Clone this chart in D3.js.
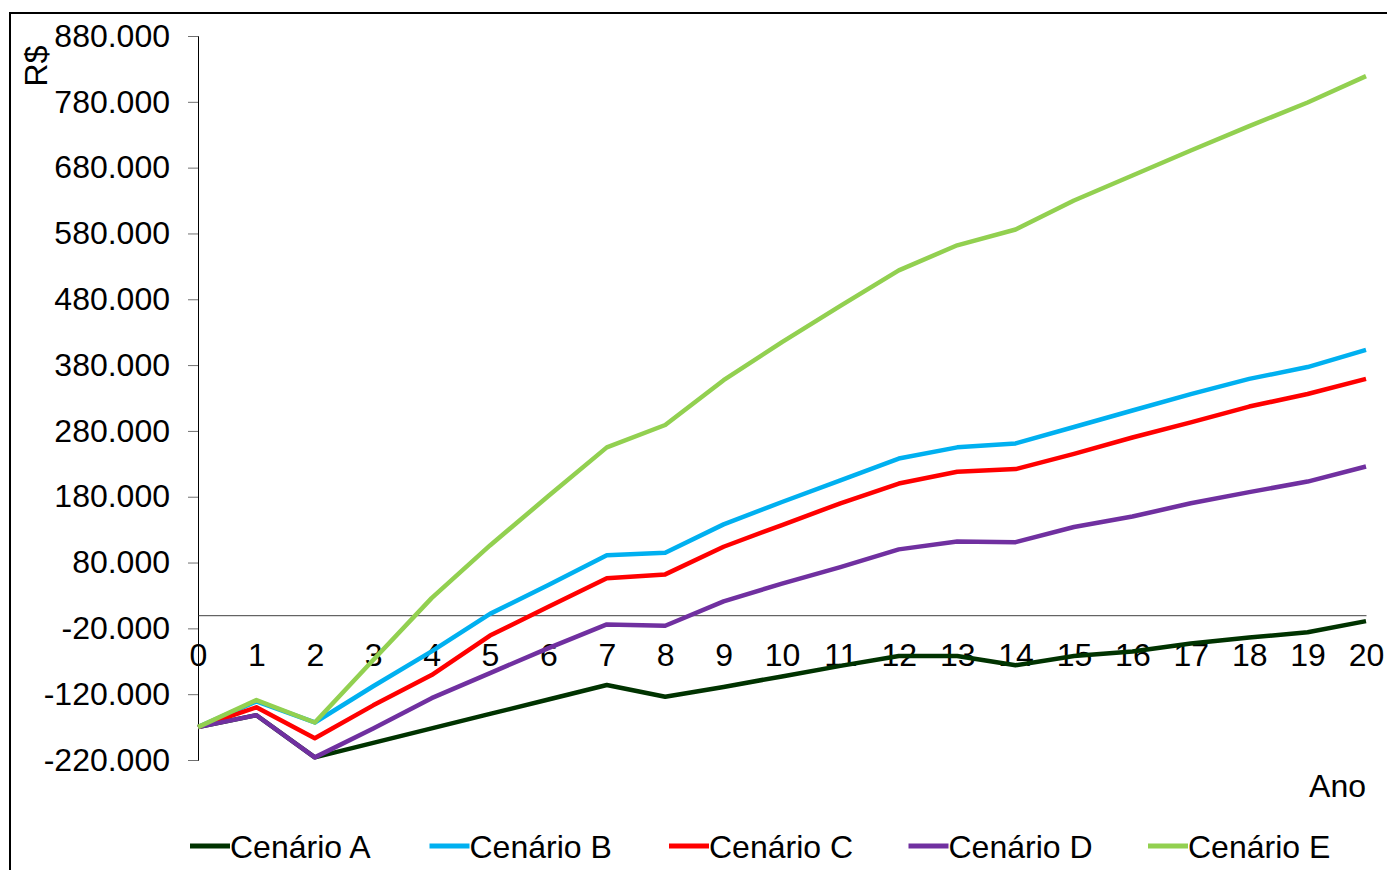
<!DOCTYPE html>
<html>
<head>
<meta charset="utf-8">
<script src="https://cdn.jsdelivr.net/npm/d3@7"></script>
<style>
  body { margin: 0; background: #fff; }
  svg text { font-family: "Liberation Sans", Arial, sans-serif; fill: #000; }
</style>
</head>
<body>
<script>
"use strict";

// anos (eixo x)
var anos = d3.range(0, 21);

// valores em R$ por cenário
var cenarioA = [-170000, -152000, -216000, -194000, -172000, -150000, -128000, -106000, -124000, -109000, -93000,
                -77000, -62000, -62000, -76000, -62000, -55000, -43000, -34000, -26000, -9000];
var cenarioB = [-170000, -131000, -163000, -108000, -55000, 2000, 46000, 91000, 95000, 138000, 172000,
                205000, 238000, 255000, 261000, 286000, 311000, 336000, 359000, 377000, 403000];
var cenarioC = [-170000, -140000, -187000, -137000, -91000, -31000, 13000, 56000, 62000, 104000, 137000,
                170000, 200000, 218000, 222000, 245000, 270000, 293000, 317000, 336000, 359000];
var cenarioD = [-170000, -152000, -216000, -172000, -126000, -88000, -50000, -14000, -16000, 21000, 48000,
                73000, 100000, 112000, 111000, 134000, 150000, 170000, 187000, 203000, 226000];
var cenarioE = [-170000, -129000, -163000, -68000, 26000, 106000, 181000, 255000, 289000, 357000, 415000,
                470000, 524000, 562000, 586000, 630000, 668000, 706000, 743000, 779000, 819000];

var nomes = ["Cenário A", "Cenário B", "Cenário C", "Cenário D", "Cenário E"];
var cores = ["#003300", "#00B0F0", "#FF0000", "#7030A0", "#92D050"];
var yTicks = d3.range(-220000, 880001, 100000);

var series = [cenarioA, cenarioB, cenarioC, cenarioD, cenarioE];

var width = 1387, height = 870;
var svg = d3.select("body").append("svg")
    .attr("width", width)
    .attr("height", height);

// moldura do gráfico (cortada à direita e embaixo)
svg.append("rect")
    .attr("x", 10).attr("y", 13)
    .attr("width", 1400).attr("height", 900)
    .attr("fill", "none")
    .attr("stroke", "#000")
    .attr("stroke-width", 2);

var x = d3.scaleLinear().domain([0, 20]).range([198, 1366]);
var y = d3.scaleLinear().domain([-220000, 880000]).range([760, 36]);

var br = d3.formatLocale({decimal: ",", thousands: ".", grouping: [3], currency: ["R$", ""], minus: "-"});
var fmt = br.format(",.3f");
function yFmt(d) { return br.format(",")(d / 1000) + ".000"; }

// eixo y
var yAxis = svg.append("g")
    .attr("transform", "translate(198,0)")
    .call(d3.axisLeft(y).tickValues(yTicks).tickSizeOuter(0).tickSize(10).tickPadding(18)
        .tickFormat(function(d) { return d === 0 ? "0" : (d < 0 ? "-" : "") + Math.abs(d / 1000) + ".000"; }));
yAxis.select(".domain").attr("stroke", "#000");
yAxis.selectAll(".tick line").attr("stroke", "#707070");
yAxis.selectAll("text").style("font-size", "32px").attr("fill", "#000");

// linha do zero e rótulos dos anos
var xAxis = svg.append("g")
    .attr("transform", "translate(0," + y(0) + ")")
    .call(d3.axisBottom(x).tickValues(anos).tickSize(0).tickPadding(28).tickFormat(d3.format("d")));
xAxis.select(".domain").attr("stroke", "#404040").attr("stroke-width", 1);
xAxis.selectAll("text").style("font-size", "32px").attr("fill", "#000");

// títulos dos eixos
svg.append("text")
    .attr("transform", "translate(47,66) rotate(-90)")
    .attr("text-anchor", "middle")
    .style("font-size", "32px")
    .text("R$");

svg.append("text")
    .attr("x", 1366).attr("y", 797)
    .attr("text-anchor", "end")
    .style("font-size", "32px")
    .text("Ano");

// linhas
var line = d3.line()
    .x(function(d, i) { return x(anos[i]); })
    .y(function(d) { return y(d); });

svg.append("g").selectAll("path")
    .data(series)
    .enter().append("path")
    .attr("d", line)
    .attr("fill", "none")
    .attr("stroke", function(d, i) { return cores[i]; })
    .attr("stroke-width", 4.5)
    .attr("stroke-linejoin", "round");

// legenda
var legend = svg.append("g").selectAll("g")
    .data(nomes)
    .enter().append("g")
    .attr("transform", function(d, i) { return "translate(" + (190 + i * 239.5) + ",846)"; });
legend.append("line")
    .attr("x1", 0).attr("x2", 40)
    .attr("stroke", function(d, i) { return cores[i]; })
    .attr("stroke-width", 5);
legend.append("text")
    .attr("x", 40).attr("y", 12)
    .style("font-size", "32px")
    .text(function(d) { return d; });
</script>
</body>
</html>
